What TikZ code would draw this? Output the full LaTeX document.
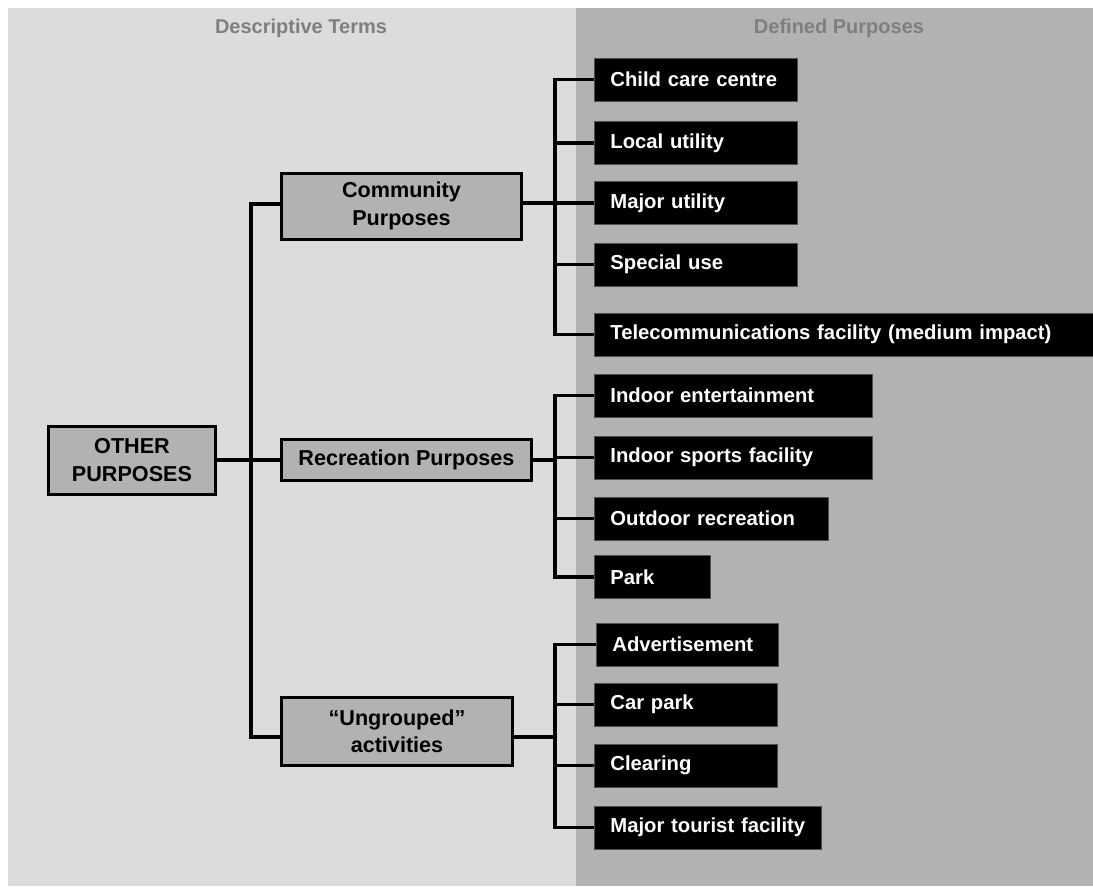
\documentclass[tikz,border=0pt]{standalone}
\usepackage{fontspec}
\setmainfont{Liberation Sans}
\usetikzlibrary{calc}
\definecolor{lpanel}{HTML}{DCDCDC}
\definecolor{rpanel}{HTML}{B2B2B2}
\definecolor{midfill}{HTML}{B2B2B2}
\definecolor{titlegray}{HTML}{7F7F7F}
\definecolor{leafedge}{HTML}{505050}
\begin{document}
\begin{tikzpicture}[x=0.75pt,y=-0.75pt,
  paneltitle/.style={font=\fontsize{15}{18}\selectfont\bfseries, text=titlegray, inner sep=0pt},
  midbox/.style={draw=black, line width=2.25pt, fill=midfill, font=\fontsize{16.2}{20.5}\selectfont\bfseries, align=center, inner sep=0pt},
  leaf/.style={fill=black, draw=leafedge, line width=0.6pt, text=white, font=\fontsize{15.2}{18}\selectfont\bfseries, anchor=west, minimum height=32.25pt, inner xsep=12pt, inner ysep=0pt, text width=#1, align=left},
  conn/.style={line width=2.3pt, draw=black}]
\useasboundingbox (0,0) rectangle (1093,886);
\fill[lpanel] (7.7,8) rectangle (576,886);
\fill[rpanel] (576,8) rectangle (1093,886);
\node[paneltitle] (tl) at (301,28) {Descriptive Terms};
\node[paneltitle] (tr) at (839,28) {Defined Purposes};
% middle boxes
\node[midbox, minimum width=125.25pt, minimum height=51pt] (other) at (132,460) {OTHER\\PURPOSES};
\node[midbox, minimum width=180pt, minimum height=49.5pt] (comm) at (401.5,206) {Community\\Purposes};
\node[midbox, minimum width=187.5pt, minimum height=30.75pt] (rec) at (406.5,460) {Recreation Purposes};
\node[midbox, minimum width=173.25pt, minimum height=51pt] (ung) at (397,731) {“Ungrouped”\\activities};
% leaves
\node[leaf=128.25pt] (c1) at (594,79.5) {Child care centre};
\node[leaf=128.25pt] (c2) at (594,143) {Local utility};
\node[leaf=128.25pt] (c3) at (594,203) {Major utility};
\node[leaf=128.25pt] (c4) at (594,264.5) {Special use};
\node[leaf=352pt] (c5) at (594,334.5) {Telecommunications facility (medium impact)};
\node[leaf=184.5pt] (r1) at (594,395.5) {Indoor entertainment};
\node[leaf=184.5pt] (r2) at (594,457.5) {Indoor sports facility};
\node[leaf=151.5pt] (r3) at (594,518.5) {Outdoor recreation};
\node[leaf=63pt] (r4) at (594,577) {Park};
\node[leaf=112.5pt] (u1) at (596,644.5) {Advertisement};
\node[leaf=113.25pt] (u2) at (594,704.5) {Car park};
\node[leaf=113.25pt] (u3) at (594,765.5) {Clearing};
\node[leaf=146.25pt] (u4) at (594,827.5) {Major tourist facility};
% connector attachment points
\coordinate (tb) at (251,0);
\coordinate (bb) at (555,0);
\coordinate (commW) at ([yshift=1.5pt]comm.west);
\coordinate (commE) at ([yshift=2.25pt]comm.east);
\coordinate (ungW) at ([yshift=-4.5pt]ung.west);
\coordinate (ungE) at ([yshift=-4.5pt]ung.east);
% connectors
\draw[conn] (commW) -| (tb |- ungW) -- (ungW);
\draw[conn] (other.east) -- (rec.west);
\draw[conn] (c1.west) -| (bb |- c5.west) -- (c5.west);
\draw[conn] (c2.west) -- (c2.west -| bb);
\draw[conn] (c3.west) -- (c3.west -| bb);
\draw[conn] (c4.west) -- (c4.west -| bb);
\draw[conn] (commE) -- (commE -| bb);
\draw[conn] (r1.west) -| (bb |- r4.west) -- (r4.west);
\draw[conn] (r2.west) -- (r2.west -| bb);
\draw[conn] (r3.west) -- (r3.west -| bb);
\draw[conn] (rec.east) -- (rec.east -| bb);
\draw[conn] (u1.west) -| (bb |- u4.west) -- (u4.west);
\draw[conn] (u2.west) -- (u2.west -| bb);
\draw[conn] (u3.west) -- (u3.west -| bb);
\draw[conn] (ungE) -- (ungE -| bb);
\end{tikzpicture}
\end{document}
